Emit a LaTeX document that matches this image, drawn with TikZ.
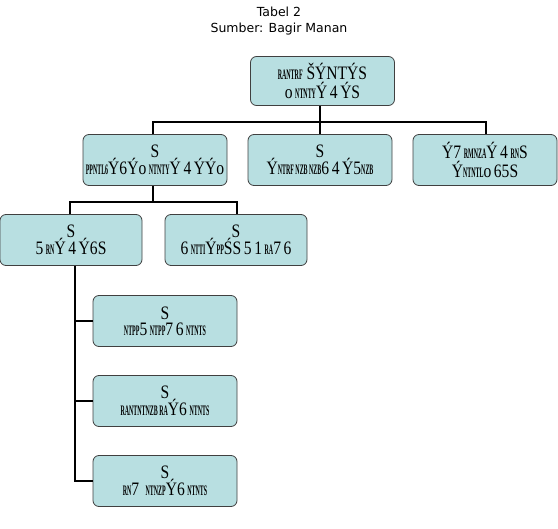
\documentclass[tikz,border=0pt]{standalone}
\usepackage{fontspec}
\setmainfont{Liberation Serif}
\newfontfamily\titlefont{DejaVu Sans}
\newcommand{\orgsm}[1]{\scalebox{0.5}[1]{\bfseries\fontsize{14.5}{14}\selectfont #1}}
\newcommand{\orgln}[1]{\scalebox{0.82}[1]{#1}}
\begin{document}
\begin{tikzpicture}[x=1pt,y=-1pt,
  orgbox/.style={draw=black!75, fill=boxfill, rounded corners=6pt, line width=0.8pt, inner sep=0pt, align=center, font=\fontsize{19}{16}\selectfont},
  link/.style={line width=2pt, black}]
\definecolor{boxfill}{HTML}{B8DFE1}
\useasboundingbox (0,0) rectangle (558,529);
\node[font=\titlefont\fontsize{12.5}{16}\selectfont, align=center] (title) at (279,21) {Tabel 2\\Sumber: Bagir Manan};
\node[orgbox, minimum width=144pt, minimum height=49pt] (top) at (322.5,81) {\orgln{\orgsm{RANTRF} ŠÝNTÝS}\\[2pt]\orgln{o\,\orgsm{NTNTY}Ý\,4\,ÝS}};
\node[orgbox, minimum width=144pt, minimum height=51pt] (b1) at (155,160) {\orgln{S}\\\orgln{\orgsm{PPNTL6}Ý6Ýo\,\orgsm{NTNTY}Ý\,4\,ÝÝo}};
\node[orgbox, minimum width=144pt, minimum height=51pt] (b2) at (320,160) {\orgln{S}\\\orgln{Ý\orgsm{NTRF NZB NZB}6\,4\,Ý5\orgsm{NZB}}};
\node[orgbox, minimum width=144pt, minimum height=51pt] (b3) at (485,160) {\orgln{Ý7\,\orgsm{RMNZA}Ý\,4\,\orgsm{RN}S}\\[1pt]\orgln{Ý\orgsm{NTNTL}o\,65S}};
\node[orgbox, minimum width=142pt, minimum height=51pt] (b4) at (71,240) {\orgln{S}\\\orgln{5\,\orgsm{RN}Ý\,4\,Ý6S}};
\node[orgbox, minimum width=142pt, minimum height=51pt] (b5) at (236,240) {\orgln{S}\\\orgln{6\,\orgsm{NTTI}Ý\orgsm{PP}ŚS\,5\,1\,\orgsm{RA}7\,6}};
\node[orgbox, minimum width=144pt, minimum height=51pt] (c1) at (165,321) {\orgln{S}\\\orgln{\orgsm{NTPP}5\,\orgsm{NTPP}7\,6\,\orgsm{NTNTS}}};
\node[orgbox, minimum width=144pt, minimum height=51pt] (c2) at (165,401) {\orgln{S}\\\orgln{\orgsm{RANTNTNZB RA}Ý6\,\orgsm{NTNTS}}};
\node[orgbox, minimum width=144pt, minimum height=51pt] (c3) at (165,481) {\orgln{S}\\\orgln{\orgsm{RN}7\, \orgsm{NTNZP}Ý6\,\orgsm{NTNTS}}};
% connectors
\coordinate (j1) at (320,122);
\coordinate (j2) at (153,202);
\draw[link] (top.south -| j1) -- (j1);
\draw[link] (b1.north -| 153,0) |- (j1) -| (b3.north -| 486,0);
\draw[link] (j1) -- (b2.north -| j1);
\draw[link] (b1.south -| j2) -- (j2);
\draw[link] (b4.north -| 70,0) |- (j2) -| (b5.north -| 237,0);
\draw[link] (b4.south -| 75,0) |- (c3.west);
\draw[link] (c1.west) -- (c1.west -| 75,0);
\draw[link] (c2.west) -- (c2.west -| 75,0);
\end{tikzpicture}
\end{document}
